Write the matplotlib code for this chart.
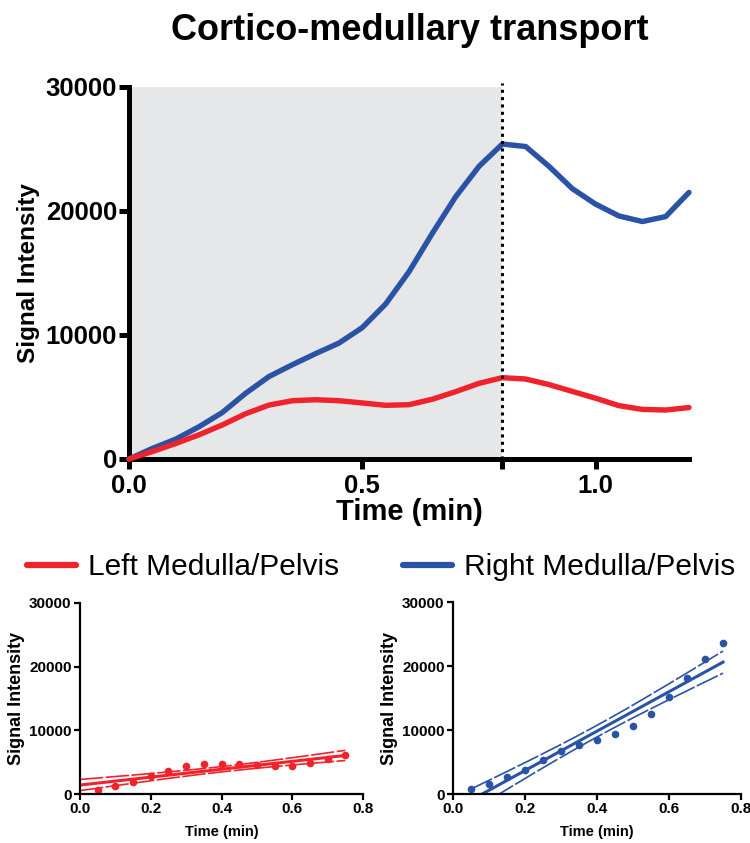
import numpy as np
import matplotlib
matplotlib.use("Agg")
import matplotlib.pyplot as plt
from matplotlib.lines import Line2D

plt.rcParams['font.family'] = ['Liberation Sans', 'DejaVu Sans']

time = [0.0, 0.05, 0.1, 0.15, 0.2, 0.25, 0.3, 0.35, 0.4, 0.45, 0.5, 0.55, 0.6,
        0.65, 0.7, 0.75, 0.8, 0.85, 0.9, 0.95, 1.0, 1.05, 1.1, 1.15, 1.2]
left_medulla = [0, 600, 1250, 1950, 2750, 3650, 4350, 4700, 4780, 4700, 4520, 4330, 4380,
                4820, 5430, 6100, 6560, 6450, 6000, 5450, 4900, 4300, 4000, 3950, 4150]
right_medulla = [0, 850, 1600, 2600, 3750, 5300, 6650, 7600, 8500, 9350, 10600, 12500, 15100,
                 18200, 21150, 23600, 25400, 25200, 23600, 21800, 20550, 19600, 19150, 19550, 21500]

title = "Cortico-medullary transport"
labels = ["Left Medulla/Pelvis", "Right Medulla/Pelvis"]
red = "#f0222b"
blue = "#2a52a5"

W, H = 750, 843
fig = plt.figure(figsize=(W / 100, H / 100), dpi=100)

def ax_px(l, t, r, b):
    return fig.add_axes([l / W, 1 - b / H, (r - l) / W, (b - t) / H])

# ---------- main axes ----------
ax = ax_px(129, 87, 689, 459)
ax.axvspan(0, 0.8, ymin=0, ymax=1, color="#e6e7e8", zorder=0, lw=0)
ax.plot(time, right_medulla, color=blue, lw=3.9, solid_capstyle='round', solid_joinstyle='round', zorder=3, clip_on=False)
ax.plot(time, left_medulla, color=red, lw=3.9, solid_capstyle='round', solid_joinstyle='round', zorder=4, clip_on=False)
ax.axvline(0.8, color="black", lw=2.2, ls=(0, (1, 1.4)), zorder=5, clip_on=False, ymin=0, ymax=1.01)
ax.set_xlim(0, 1.2)
ax.set_ylim(0, 30000)
ax.set_xticks([0, 0.5, 0.8, 1.0])
ax.set_xticklabels(["0.0", "0.5", "", "1.0"])
ax.set_yticks([0, 10000, 20000, 30000])
ax.set_yticklabels(["0", "10000", "20000", "30000"])
for s in ["top", "right"]:
    ax.spines[s].set_visible(False)
for s in ["left", "bottom"]:
    ax.spines[s].set_linewidth(3.6)
ax.tick_params(axis='both', width=3.6, length=7, labelsize=18.5)
ax.tick_params(axis='y', pad=1.5)
ax.tick_params(axis='x', pad=4)
for lab in ax.get_xticklabels() + ax.get_yticklabels():
    lab.set_fontweight('bold')
ax.set_xlabel("Time (min)", fontsize=21, fontweight='bold', labelpad=0)
ax.set_ylabel("Signal Intensity", fontsize=17.5, fontweight='bold', labelpad=4)
ax.set_facecolor('white')

fig.text(410 / W, 1 - 30 / H, title, ha='center', va='center', fontsize=26, fontweight='bold')

# ---------- legends ----------
for lab, col, x0 in [(labels[0], red, 27), (labels[1], blue, 403)]:
    h = Line2D([], [], color=col, lw=4.5, solid_capstyle='round')
    fig.legend([h], [lab], loc='center left', bbox_to_anchor=(x0 / W, 1 - 567 / H),
               frameon=False, fontsize=21.5, handlelength=1.65, handletextpad=0.4,
               borderaxespad=0, borderpad=0)

# ---------- small regression plots ----------
def small(axp, y, col, xstart):
    t = np.array(time[1:16])
    v = np.array(y[1:16], dtype=float)
    n = len(t)
    slope, inter = np.polyfit(t, v, 1)
    xs = np.linspace(xstart, 0.75, 200)
    fit = inter + slope * xs
    resid = v - (inter + slope * t)
    s = np.sqrt(np.sum(resid ** 2) / (n - 2))
    tcrit = 2.16
    se = s * np.sqrt(1 / n + (xs - t.mean()) ** 2 / np.sum((t - t.mean()) ** 2))
    axp.plot(xs, fit, color=col, lw=2.2)
    axp.plot(xs, fit + tcrit * se, color=col, lw=1.2, ls=(0, (14, 1.5)))
    axp.plot(xs, fit - tcrit * se, color=col, lw=1.2, ls=(0, (14, 1.5)))
    axp.plot(t, v, 'o', color=col, ms=5.5, mec='none')
    axp.set_xlim(0, 0.8)
    axp.set_ylim(0, 30000)
    axp.set_xticks([0, 0.2, 0.4, 0.6, 0.8])
    axp.set_xticklabels(["0.0", "0.2", "0.4", "0.6", "0.8"])
    axp.set_yticks([0, 10000, 20000, 30000])
    axp.set_yticklabels(["0", "10000", "20000", "30000"])
    for sp in ["top", "right"]:
        axp.spines[sp].set_visible(False)
    for sp in ["left", "bottom"]:
        axp.spines[sp].set_linewidth(1.6)
    axp.tick_params(axis='both', width=1.6, length=4, labelsize=11, pad=2)
    for lab in axp.get_xticklabels() + axp.get_yticklabels():
        lab.set_fontweight('bold')
    axp.set_xlabel("Time (min)", fontsize=10.5, fontweight='bold', labelpad=6)
    axp.set_ylabel("Signal Intensity", fontsize=13, fontweight='bold', labelpad=3)

ax1 = ax_px(80, 603, 363, 794)
small(ax1, left_medulla, red, 0.0)
ax2 = ax_px(453, 602, 741, 794)
small(ax2, right_medulla, blue, 0.05)

fig.savefig("out.png", dpi=100)
